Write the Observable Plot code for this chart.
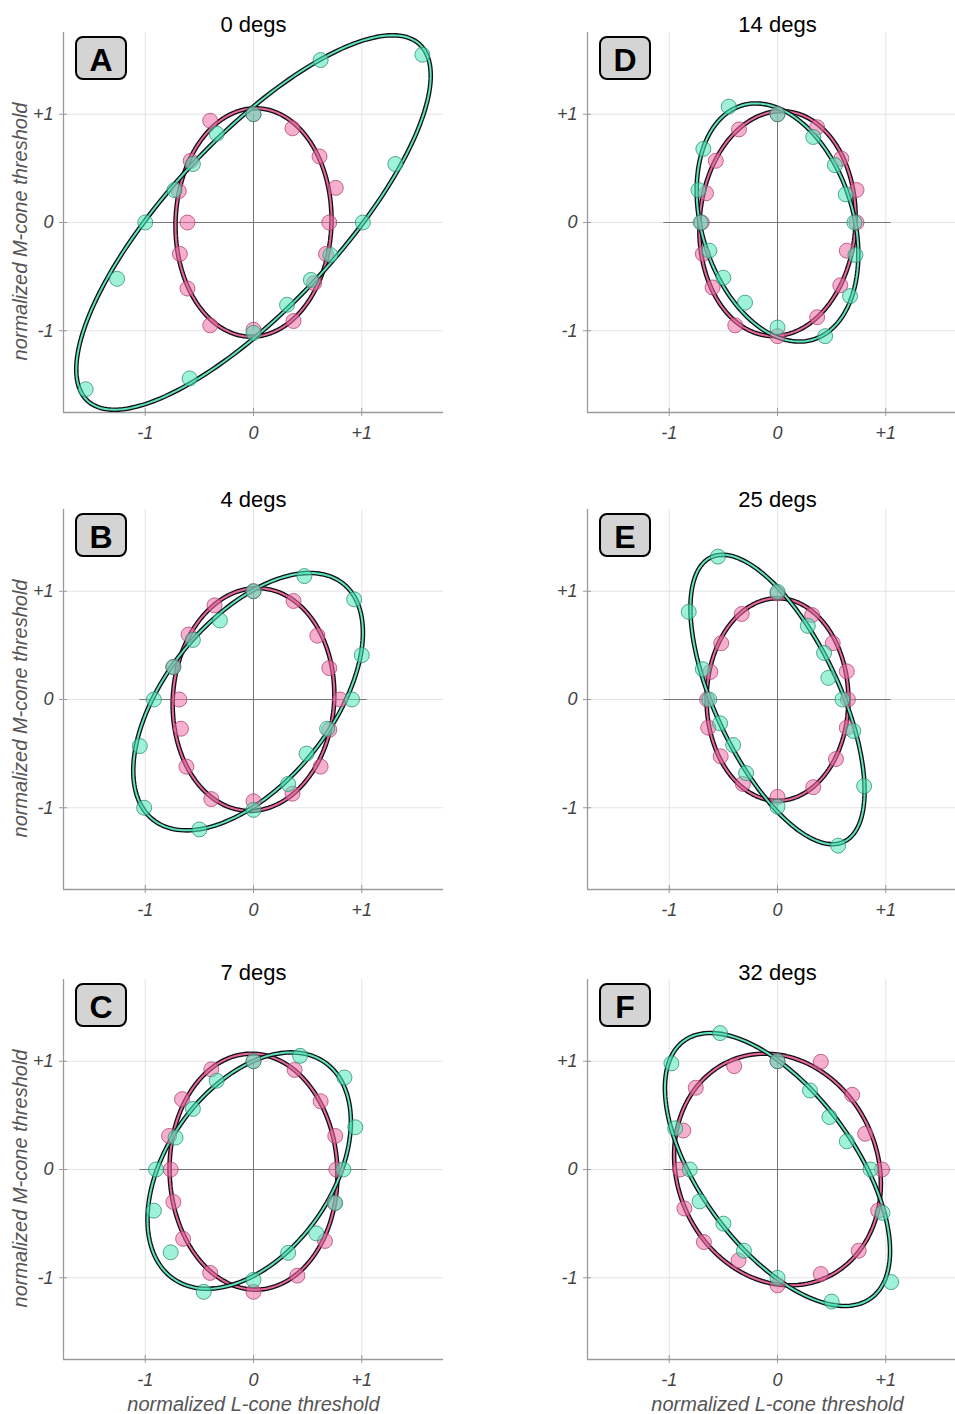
<!DOCTYPE html>
<html>
<head>
<meta charset="utf-8">
<script src="https://cdn.jsdelivr.net/npm/d3@7"></script>
<script src="https://cdn.jsdelivr.net/npm/@observablehq/plot@0.6"></script>
<style>
  html, body { margin: 0; padding: 0; background: #fff; overflow: hidden; }
  #wrap { position: relative; width: 955px; height: 1414px; overflow: hidden; background: #fff; }
  #wrap svg { position: absolute; }
</style>
</head>
<body>
<div id="wrap"></div>
<script>
// ---------- data ----------
const panelIds = ["A", "B", "C", "D", "E", "F"];
const titles = ["0 degs", "4 degs", "7 degs", "14 degs", "25 degs", "32 degs"];
const tickValues = [-1, 0, 1];
const tickLabels = ["-1", "0", "+1"];
const xLabel = "normalized L-cone threshold";
const yLabel = "normalized M-cone threshold";

// measured thresholds [L, M]
const pinkA = [[0,1.0],[0.36,0.87],[0.61,0.61],[0.76,0.32],[0.70,0],[0.67,-0.29],[0.56,-0.56],[0.37,-0.91],[0,-0.99],[-0.40,-0.95],[-0.61,-0.61],[-0.68,-0.29],[-0.61,0],[-0.69,0.29],[-0.58,0.57],[-0.40,0.94]];
const tealA = [[0,1.0],[0.62,1.50],[1.56,1.55],[1.31,0.54],[1.01,0],[0.71,-0.30],[0.53,-0.53],[0.31,-0.76],[0,-1.02],[-0.59,-1.44],[-1.55,-1.54],[-1.26,-0.52],[-1.0,0],[-0.73,0.30],[-0.56,0.54],[-0.34,0.82]];
const pinkB = [[0,1.0],[0.37,0.91],[0.59,0.59],[0.70,0.29],[0.80,0],[0.70,-0.28],[0.62,-0.62],[0.36,-0.87],[0,-0.94],[-0.39,-0.92],[-0.62,-0.62],[-0.67,-0.27],[-0.685,0],[-0.74,0.30],[-0.60,0.60],[-0.36,0.87]];
const tealB = [[0,1.0],[0.47,1.14],[0.93,0.925],[1.0,0.41],[0.91,0],[0.68,-0.27],[0.49,-0.50],[0.32,-0.78],[0,-1.02],[-0.50,-1.20],[-1.01,-1.0],[-1.05,-0.43],[-0.92,0],[-0.74,0.30],[-0.56,0.55],[-0.31,0.73]];
const pinkC = [[0,1.0],[0.38,0.92],[0.62,0.63],[0.755,0.31],[0.765,0],[0.75,-0.31],[0.66,-0.66],[0.405,-0.98],[0,-1.13],[-0.40,-0.955],[-0.65,-0.64],[-0.74,-0.30],[-0.765,0],[-0.78,0.31],[-0.66,0.65],[-0.39,0.925]];
const tealC = [[0,1.0],[0.43,1.05],[0.84,0.85],[0.94,0.39],[0.83,0],[0.755,-0.31],[0.58,-0.59],[0.32,-0.77],[0,-1.02],[-0.46,-1.13],[-0.765,-0.765],[-0.92,-0.38],[-0.90,0],[-0.72,0.295],[-0.56,0.56],[-0.34,0.82]];
const pinkD = [[0,1.0],[0.366,0.88],[0.59,0.59],[0.73,0.30],[0.73,0],[0.64,-0.26],[0.58,-0.58],[0.366,-0.875],[0,-1.05],[-0.39,-0.95],[-0.60,-0.60],[-0.69,-0.29],[-0.70,0],[-0.66,0.27],[-0.57,0.57],[-0.356,0.86]];
const tealD = [[0,1.0],[0.33,0.79],[0.53,0.53],[0.63,0.26],[0.71,0],[0.72,-0.30],[0.67,-0.68],[0.44,-1.05],[0,-0.97],[-0.30,-0.74],[-0.50,-0.51],[-0.63,-0.26],[-0.71,0],[-0.73,0.30],[-0.685,0.68],[-0.45,1.07]];
const pinkE = [[0,0.98],[0.32,0.78],[0.51,0.52],[0.64,0.26],[0.65,0],[0.64,-0.26],[0.54,-0.55],[0.33,-0.81],[0,-0.90],[-0.32,-0.78],[-0.525,-0.525],[-0.64,-0.26],[-0.65,0],[-0.62,0.255],[-0.52,0.52],[-0.33,0.79]];
const tealE = [[0,0.995],[0.28,0.68],[0.43,0.43],[0.47,0.20],[0.60,0],[0.70,-0.29],[0.80,-0.80],[0.56,-1.35],[0,-0.99],[-0.29,-0.68],[-0.41,-0.42],[-0.53,-0.22],[-0.63,0],[-0.69,0.28],[-0.82,0.81],[-0.55,1.32]];
const pinkF = [[0,1.0],[0.40,0.995],[0.69,0.69],[0.81,0.33],[0.965,0],[0.93,-0.38],[0.75,-0.75],[0.40,-0.965],[0,-1.07],[-0.36,-0.84],[-0.68,-0.67],[-0.86,-0.36],[-0.90,0],[-0.87,0.36],[-0.755,0.755],[-0.40,0.955]];
const tealF = [[0,1.0],[0.30,0.73],[0.48,0.485],[0.64,0.26],[0.86,0],[0.97,-0.40],[1.05,-1.04],[0.50,-1.22],[0,-1.0],[-0.31,-0.75],[-0.50,-0.50],[-0.72,-0.295],[-0.81,0],[-0.945,0.38],[-0.98,0.98],[-0.53,1.26]];

// fitted ellipses: [semi-axis a, semi-axis b, angle of a (deg), centre L, centre M]
const pinkFit = [[1.055,0.72,88,0,0],[1.03,0.745,86,0,0],[1.09,0.775,92,0,-0.02],[1.04,0.72,86,0,-0.01],[0.935,0.655,90,0,0],[1.095,0.926,113.5,0,0]];
const tealFit = [[2.25,0.78,47,0,0],[1.40,0.76,51,-0.05,-0.02],[1.22,0.765,55,-0.04,-0.01],[1.13,0.70,107,0,0],[1.45,0.575,115,0,0],[1.469,0.716,126,0,0]];

const pinkPts = [pinkA, pinkB, pinkC, pinkD, pinkE, pinkF];
const tealPts = [tealA, tealB, tealC, tealD, tealE, tealF];

// ---------- layout ----------
const lim = [-1.755, 1.755];
const plotSize = 380;
const rowTop = [32, 509, 979];     // top of each row's plotting area (px)
const titleDy = [-8, -10, -7];
const FONT = "'Liberation Sans', Arial, Helvetica, sans-serif";

function ellipseCurve([a, b, th, cx, cy]) {
  const t = th * Math.PI / 180, pts = [];
  for (let i = 0; i <= 360; i += 2) {
    const u = i * Math.PI / 180;
    pts.push({
      x: cx + a * Math.cos(t) * Math.cos(u) - b * Math.sin(t) * Math.sin(u),
      y: cy + a * Math.sin(t) * Math.cos(u) + b * Math.cos(t) * Math.sin(u)
    });
  }
  return pts;
}

const wrap = document.getElementById("wrap");
const fmt = d => tickLabels[tickValues.indexOf(d)];

panelIds.forEach((id, i) => {
  const col = i < 3 ? 0 : 1;
  const row = i % 3;
  const ml = col === 0 ? 63 : 110;
  const mr = col === 0 ? 34 : 10;
  const mt = 32;
  const mb = row === 2 ? 55 : 40;
  const svgLeft = col === 0 ? 0 : 477;
  const svgTop = rowTop[row] - mt;

  const marks = [
    Plot.gridX(tickValues, {stroke: "#e4e4e4", strokeOpacity: 1, strokeWidth: 1}),
    Plot.gridY(tickValues, {stroke: "#e4e4e4", strokeOpacity: 1, strokeWidth: 1}),
    Plot.ruleY([0], {x1: -1.05, x2: 1.05, stroke: "#777", strokeWidth: 1}),
    Plot.ruleX([0], {y1: -1.0, y2: 1.0, stroke: "#777", strokeWidth: 1}),
    Plot.ruleY([lim[0]], {stroke: "#9a9a9a", strokeWidth: 1.3}),
    Plot.ruleX([lim[0]], {stroke: "#9a9a9a", strokeWidth: 1.3}),
    Plot.axisX(tickValues, {label: null, tickFormat: fmt, tickSize: 4, tickPadding: 10, fontSize: 18, fontStyle: "italic", fill: "#444", stroke: "#9a9a9a"}),
    Plot.axisY(tickValues, {label: null, tickFormat: fmt, tickSize: 4, tickPadding: 6, fontSize: 18, fontStyle: "italic", fill: "#444", stroke: "#9a9a9a"}),
    Plot.line(ellipseCurve(pinkFit[i]), {x: "x", y: "y", stroke: "#111", strokeWidth: 4.6}),
    Plot.line(ellipseCurve(pinkFit[i]), {x: "x", y: "y", stroke: "#e8679f", strokeWidth: 2}),
    Plot.line(ellipseCurve(tealFit[i]), {x: "x", y: "y", stroke: "#111", strokeWidth: 4.6}),
    Plot.line(ellipseCurve(tealFit[i]), {x: "x", y: "y", stroke: "#5fe2c0", strokeWidth: 2}),
    Plot.dot(pinkPts[i], {x: d => d[0], y: d => d[1], r: 7.5, fill: "#f06ea8", fillOpacity: 0.55, stroke: "#a8406c", strokeOpacity: 0.75, strokeWidth: 1}),
    Plot.dot(tealPts[i], {x: d => d[0], y: d => d[1], r: 7.5, fill: "#4ee8b8", fillOpacity: 0.55, stroke: "#2e8a6c", strokeOpacity: 0.75, strokeWidth: 1}),
    Plot.text([titles[i]], {text: d => d, frameAnchor: "top", dy: titleDy[row], fontSize: 22, fill: "#000", lineAnchor: "middle"})
  ];
  if (col === 0) {
    marks.push(Plot.text([yLabel], {text: d => d, frameAnchor: "left", textAnchor: "middle", rotate: -90, dx: -43, dy: 9, fontSize: 20, fontStyle: "italic", fill: "#555", lineAnchor: "middle"}));
  }
  if (row === 2) {
    marks.push(Plot.text([xLabel], {text: d => d, frameAnchor: "bottom", textAnchor: "middle", dy: 45, fontSize: 20, fontStyle: "italic", fill: "#555", lineAnchor: "middle"}));
  }

  const svg = Plot.plot({
    width: ml + plotSize + mr,
    height: mt + plotSize + mb,
    marginTop: mt, marginBottom: mb, marginLeft: ml, marginRight: mr,
    x: {domain: lim, axis: null},
    y: {domain: lim, axis: null},
    style: {fontFamily: FONT, background: "transparent", overflow: "visible"},
    marks
  });
  svg.style.left = svgLeft + "px";
  svg.style.top = svgTop + "px";

  // ticks straddle the axis lines
  d3.select(svg).selectAll('g[aria-label="x-axis tick"] path').attr("d", "M0,-4L0,4");
  d3.select(svg).selectAll('g[aria-label="y-axis tick"] path').attr("d", "M-4,0L4,0");

  // panel letter badge
  const g = d3.select(svg).append("g").attr("transform", `translate(${ml + 13},${mt + 5})`);
  g.append("rect").attr("width", 50).attr("height", 42).attr("rx", 7)
    .attr("fill", "#d4d4d4").attr("stroke", "#000").attr("stroke-width", 2);
  g.append("text").attr("x", 25).attr("y", 22).attr("dy", "0.36em")
    .attr("text-anchor", "middle").attr("font-family", FONT)
    .attr("font-weight", "bold").attr("font-size", 32).attr("fill", "#000").text(id);

  wrap.appendChild(svg);
});
</script>
</body>
</html>
